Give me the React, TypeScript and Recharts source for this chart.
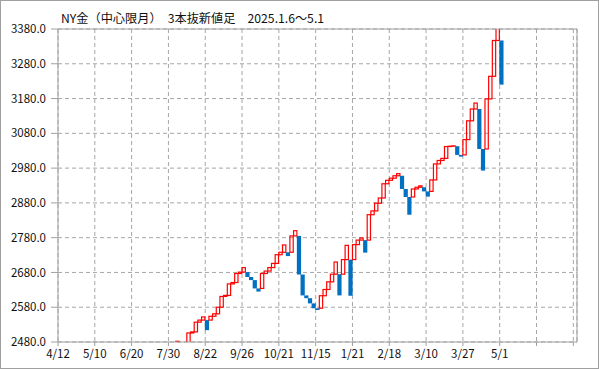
import React from 'react';
import {
  ComposedChart,
  Bar,
  XAxis,
  YAxis,
  CartesianGrid,
  ReferenceLine,
} from 'recharts';

// 3-line-break boxes; slot index where the first visible box sits
const FIRST_SLOT = 32;
// open / close of each box (null = slot with nothing visible)
const boxOpen: (number | null)[] = [
  2460, null, null, 2465, 2506, 2509, 2537, 2543, 2543, 2543,
  2554, 2561, 2580, 2611, 2614, 2647, 2651, 2677, 2681, 2681,
  2667, 2658, 2634, 2634, 2677, 2684, 2694, 2706, 2731, 2738,
  2738, 2738, 2785, 2785, 2674, 2614, 2606, 2591, 2577, 2577,
  2613, 2631, 2653, 2675, 2675, 2675, 2717, 2717, 2717, 2760,
  2773, 2773, 2773, 2846, 2857, 2879, 2894, 2935, 2945, 2951,
  2958, 2958, 2920, 2897, 2897, 2920, 2925, 2925, 2913, 2913,
  2946, 2992, 3002, 3008, 3042, 3043, 3043, 3018, 3018, 3062,
  3116, 3150, 3150, 3035, 3035, 3179, 3244, 3347, 3347,
];
const boxClose: (number | null)[] = [
  2482, null, null, 2506, 2509, 2537, 2543, 2552, 2514, 2554,
  2561, 2580, 2611, 2614, 2647, 2651, 2677, 2681, 2694, 2667,
  2658, 2634, 2625, 2677, 2684, 2694, 2706, 2731, 2738, 2759,
  2727, 2785, 2800, 2674, 2614, 2606, 2591, 2577, 2572, 2613,
  2631, 2653, 2675, 2710, 2614, 2717, 2758, 2613, 2760, 2773,
  2779, 2737, 2846, 2857, 2879, 2894, 2935, 2945, 2951, 2958,
  2964, 2920, 2897, 2846, 2920, 2925, 2929, 2913, 2898, 2946,
  2992, 3002, 3008, 3042, 3043, 3044, 3018, 3013, 3062, 3116,
  3150, 3167, 3035, 2973, 3179, 3244, 3347, 3420, 3220,
];

// date labels, one every 10 slots starting at slot 0
const dateLabels = ['4/12', '5/10', '6/20', '7/30', '8/22', '9/26', '10/21', '11/15', '1/21', '2/18', '3/10', '3/27', '5/1'];
const xTicks = [0, 10, 20, 30, 40, 50, 60, 70, 80, 90, 100, 110, 120, 130, 140];
const yTicks = [2480, 2580, 2680, 2780, 2880, 2980, 3080, 3180, 3280, 3380];

const title = 'NY金（中心限月）\u30003本抜新値足\u30002025.1.6～5.1';

const FONT = '"Noto Sans CJK JP", "Noto Sans", sans-serif';
const GRID = '#a6a6a6';

const data = boxOpen
  .map((open, i) => ({ open, close: boxClose[i], slot: FIRST_SLOT + i }))
  .filter(d => d.open != null && d.close != null)
  .map(d => ({
    x: d.slot + 0.5,
    range: [Math.min(d.open as number, d.close as number), Math.max(d.open as number, d.close as number)],
    up: (d.close as number) >= (d.open as number),
  }));

const BoxShape = (props: any) => {
  const { x, y, width, height, payload } = props;
  if (x == null || y == null) return null;
  const h = Math.max(height, 0.01);
  if (payload.up) {
    return <rect x={x} y={y} width={width} height={h} fill="none" stroke="#ff0000" strokeWidth={1.2} />;
  }
  return <rect x={x - 0.4} y={y} width={width + 0.9} height={h} fill="#0070c0" />;
};

export default function App() {
  return (
    <div style={{ position: 'absolute', left: 0, top: 0, width: 599, height: 369, background: '#fff', fontFamily: FONT }}>
      <ComposedChart
        width={599}
        height={369}
        data={data}
        margin={{ top: 29, right: 22, bottom: 0, left: 0 }}
      >
        <CartesianGrid stroke={GRID} strokeDasharray="4 3" />
        <XAxis
          type="number"
          dataKey="x"
          domain={[0, 141]}
          ticks={xTicks}
          interval={0}
          height={27}
          tickSize={4}
          tickMargin={4}
          stroke="#a0a0a0"
          tick={{ fontSize: 11.5, fill: '#111', fontFamily: FONT }}
          tickFormatter={(v: number) => dateLabels[v / 10] ?? ''}
        />
        <YAxis
          type="number"
          domain={[2480, 3380]}
          ticks={yTicks}
          interval={0}
          allowDataOverflow
          width={58}
          tickSize={7}
          tickMargin={5}
          stroke="#a0a0a0"
          tick={{ fontSize: 11.5, fill: '#111', fontFamily: FONT }}
          tickFormatter={(v: number) => v.toFixed(1)}
        />
        <ReferenceLine y={3380} stroke="#a0a0a0" />
        <ReferenceLine x={141} stroke="#a0a0a0" />
        <Bar dataKey="range" barSize={4} shape={BoxShape} isAnimationActive={false} />
      </ComposedChart>
      <div style={{ position: 'absolute', left: 61, top: 12, fontSize: 12.2, lineHeight: '12px', color: '#111', whiteSpace: 'pre' }}>
        {title}
      </div>
      <div style={{ position: 'absolute', left: 0, top: 0, width: 599, height: 369, boxSizing: 'border-box', border: '1px solid #a0a0a0', pointerEvents: 'none' }} />
    </div>
  );
}
